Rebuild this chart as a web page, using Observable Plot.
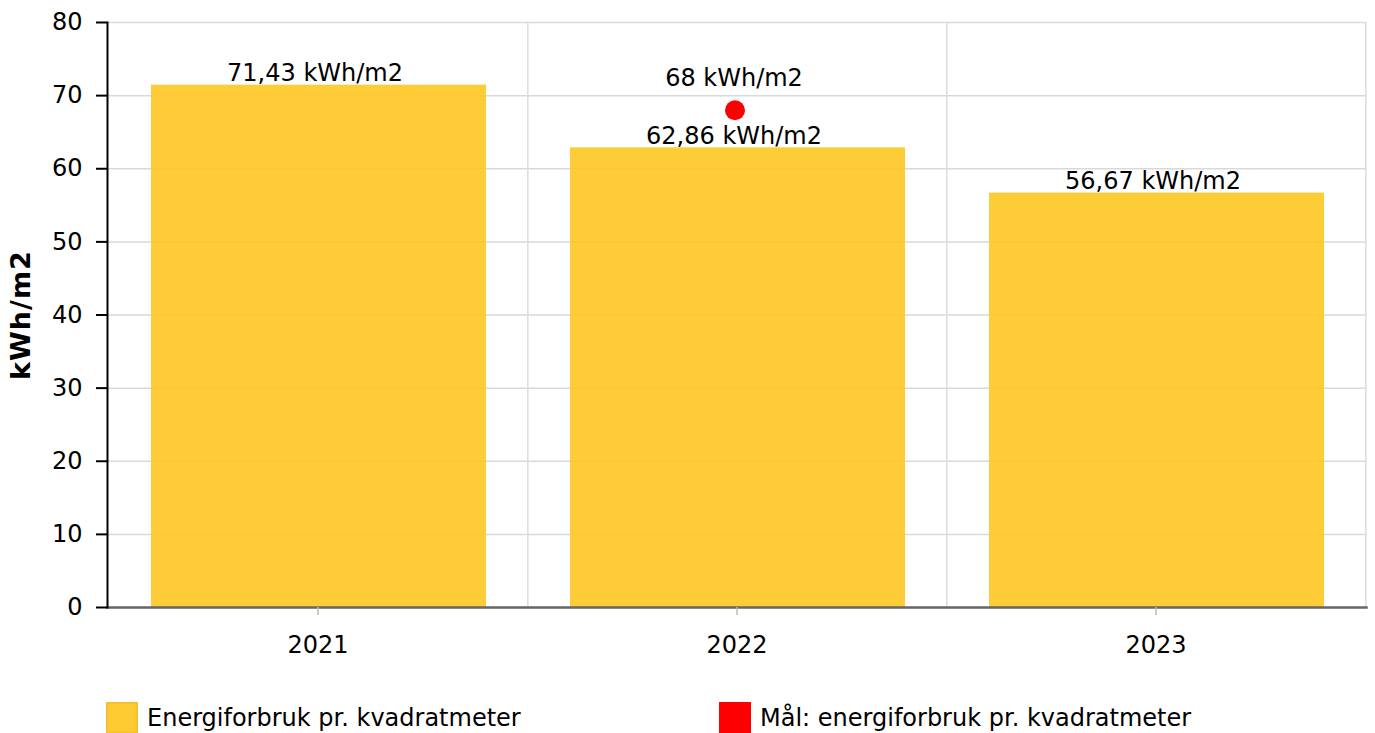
<!DOCTYPE html>
<html>
<head>
<meta charset="utf-8">
<script src="https://cdn.jsdelivr.net/npm/d3@7"></script>
<script src="https://cdn.jsdelivr.net/npm/@observablehq/plot@0.6"></script>
<style>
  html, body { margin: 0; padding: 0; background: #fff; }
  body { width: 1375px; height: 733px; overflow: hidden; font-family: "DejaVu Sans", Verdana, sans-serif; }
  #chart { position: relative; width: 1375px; height: 690px; }
  #legend { position: relative; width: 1375px; height: 43px; font-size: 24px; color: #000; }
  .item { position: absolute; top: 12px; display: flex; align-items: center; white-space: nowrap; }
  .sw { width: 32px; height: 32px; box-sizing: border-box; margin-right: 9px; }
</style>
</head>
<body>
<div id="chart"></div>
<div id="legend"></div>
<script>
const years = ["2021", "2022", "2023"];
const values = [71.43, 62.86, 56.67];
const valueLabels = ["71,43 kWh/m2", "62,86 kWh/m2", "56,67 kWh/m2"];
const targetYears = ["2022"];
const targetValues = [68];
const targetLabels = ["68 kWh/m2"];
const yTicks = [0, 10, 20, 30, 40, 50, 60, 70, 80];
const seriesNames = ["Energiforbruk pr. kvadratmeter", "Mål: energiforbruk pr. kvadratmeter"];
const barColor = "#fdc620";
const targetColor = "#ff0000";

const bars = years.map((y, i) => ({year: y, value: values[i], label: valueLabels[i]}));
const targets = targetYears.map((y, i) => ({year: y, value: targetValues[i], label: targetLabels[i]}));

const W = 1375, H = 690, ML = 107, MR = 9, MT = 22, MB = 83;
const halfStep = (W - ML - MR) / years.length / 2;

const chart = Plot.plot({
  width: W, height: H,
  marginLeft: ML, marginRight: MR, marginTop: MT, marginBottom: MB,
  style: {fontFamily: "DejaVu Sans, Verdana, sans-serif", fontSize: "24px", color: "#000", background: "#fff", overflow: "visible"},
  x: {domain: years, paddingInner: 0.2, paddingOuter: 0.1, label: null},
  y: {domain: [0, 80], ticks: yTicks, label: null},
  marks: [
    Plot.gridY(yTicks, {stroke: "#d9d9d9", strokeOpacity: 1, strokeWidth: 1.5}),
    Plot.ruleX(years, {x: d => d, dx: halfStep, stroke: "#dddddd", strokeWidth: 1.5}),
    Plot.barY(bars, {x: "year", y: "value", fill: barColor, fillOpacity: 0.9, dx: 1}),
    Plot.frame({anchor: "bottom", stroke: "#666", strokeWidth: 2.5}),
    Plot.frame({anchor: "left", stroke: "#000", strokeWidth: 2}),
    Plot.axisY({ticks: yTicks, tickSize: 11, tickPadding: 14, stroke: "#000", strokeWidth: 2, fontSize: 24,
      label: "kWh/m2", labelAnchor: "center", labelArrow: "none", labelOffset: 97}),
    Plot.axisX({tickSize: 8, tickPadding: 20, stroke: "#bbb", strokeWidth: 1.5, fontSize: 24, label: null}),
    Plot.text(bars, {x: "year", y: "value", text: "label", lineAnchor: "bottom", dy: -4, dx: -3, fontSize: 24, fill: "#000"}),
    Plot.dot(targets, {x: "year", y: "value", r: 10, fill: targetColor, stroke: null, dx: -2}),
    Plot.text(targets, {x: "year", y: "value", text: "label", lineAnchor: "bottom", dy: -24, dx: -3, fontSize: 24, fill: "#000"})
  ]
});
document.getElementById("chart").appendChild(chart);
const yl = chart.querySelector('[aria-label="y-axis label"]');
if (yl) {
  yl.setAttribute("font-weight", "bold");
  yl.style.fontWeight = "bold";
  yl.setAttribute("font-size", "27");
  yl.style.fontSize = "27px";
  yl.style.letterSpacing = "1px";
}

const legend = document.getElementById("legend");
const legendX = [106, 719];
const legendColors = [barColor, targetColor];
const legendBorders = ["#f5bd1a", targetColor];
seriesNames.forEach((name, i) => {
  const item = document.createElement("div");
  item.className = "item";
  item.style.left = legendX[i] + "px";
  const sw = document.createElement("div");
  sw.className = "sw";
  sw.style.background = legendColors[i];
  sw.style.opacity = i === 0 ? 0.92 : 1;
  sw.style.border = "2px solid " + legendBorders[i];
  const t = document.createElement("span");
  t.textContent = name;
  item.appendChild(sw);
  item.appendChild(t);
  legend.appendChild(item);
});
</script>
</body>
</html>
